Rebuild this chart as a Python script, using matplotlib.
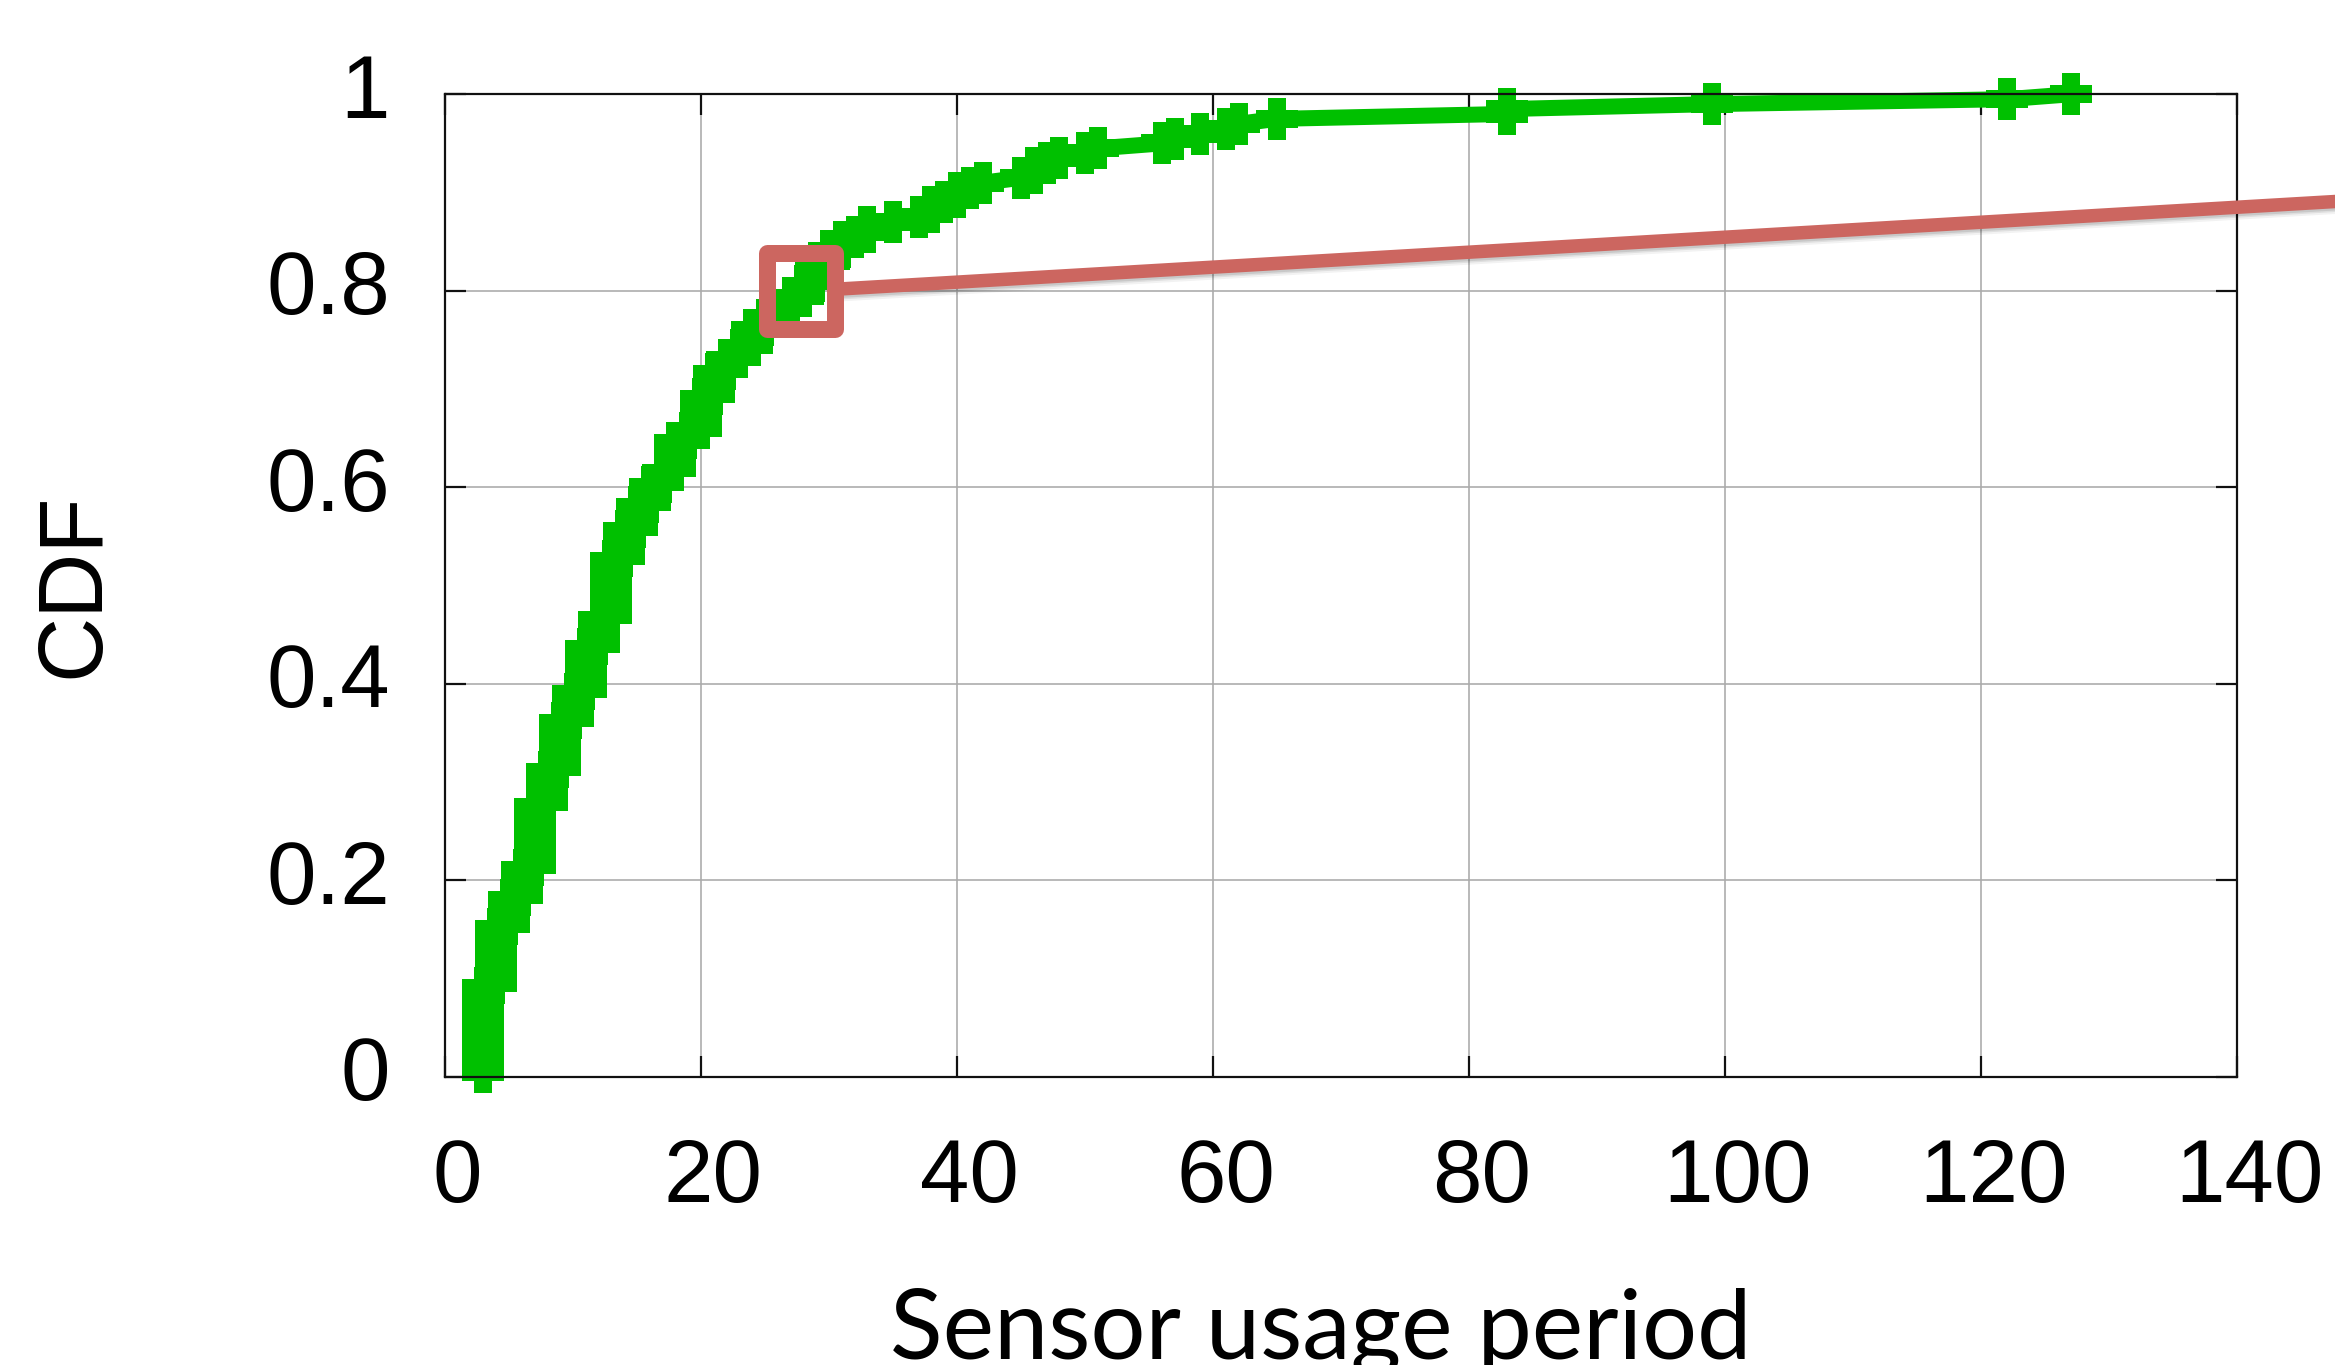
import numpy as np
import matplotlib
matplotlib.use("Agg")
import matplotlib.pyplot as plt
from matplotlib.lines import Line2D
from matplotlib.patches import Rectangle
from matplotlib.transforms import ScaledTranslation, IdentityTransform

# ---------------- data ----------------
# integer usage-period values and how many samples fall on each value
usage_period = [3, 4, 5, 6, 7, 8, 9, 10, 11, 12, 13, 14, 15, 16, 17, 18, 19, 20,
                21, 22, 23, 24, 25, 26, 27, 28, 29, 30, 31, 32, 33, 35, 37, 38,
                39, 40, 41, 42, 45, 46, 47, 48, 50, 51, 56, 57, 59, 61, 62, 65,
                83, 99, 122, 127]
sample_count = [18, 12, 6, 6, 13, 7, 10, 6, 9, 6, 12, 6, 5, 4, 3, 6, 2, 7,
                5, 3, 2, 4, 2, 2, 2, 3, 4, 3, 2, 1, 2, 1, 1, 2,
                1, 2, 1, 1, 1, 2, 1, 1, 1, 1, 1, 1, 1, 1, 1, 1,
                2, 1, 1, 1]

x_ticks = [0, 20, 40, 60, 80, 100, 120, 140]
x_tick_labels = ["0", "20", "40", "60", "80", "100", "120", "140"]
y_ticks = [0, 0.2, 0.4, 0.6, 0.8, 1.0]
y_tick_labels = ["0", "0.2", "0.4", "0.6", "0.8", "1"]
x_label = "Sensor usage period"
y_label = "CDF"
callout_point = (27.8, 0.80)

# ---------------- figure ----------------
W, H = 2335, 1365
DPI = 100
PT = 72.0 / DPI  # points per pixel

fig = plt.figure(figsize=(W / DPI, H / DPI), dpi=DPI)
fig.patch.set_facecolor("white")

ax_left, ax_right, ax_top, ax_bottom = 445, 2237, 94.3, 1076.7
ax = fig.add_axes([ax_left / W, 1 - ax_bottom / H,
                   (ax_right - ax_left) / W, (ax_bottom - ax_top) / H])

periods = np.repeat(usage_period, sample_count)
cdf = np.arange(1, len(periods) + 1) / len(periods)

green = "#00C000"
ax.plot(periods, cdf, color=green, lw=16 * PT, marker="+", ms=42 * PT,
        mew=18 * PT, clip_on=False, solid_joinstyle="miter",
        solid_capstyle="butt", zorder=2)

ax.set_xlim(0, 140)
ax.set_ylim(0, 1)
ax.set_xticks(x_ticks)
ax.set_xticklabels(x_tick_labels)
ax.set_yticks(y_ticks)
ax.set_yticklabels(y_tick_labels)

ax.grid(True, color="#aaaaaa", lw=1.6 * PT, zorder=0)
ax.set_axisbelow(True)

for sp in ax.spines.values():
    sp.set_linewidth(2.2 * PT)
    sp.set_color("#111111")
    sp.set_zorder(3)

tick_font = "Liberation Sans"
ax.tick_params(axis="both", which="major", direction="in", length=21 * PT,
               width=2.2 * PT, color="#111111", top=True, right=True,
               labelsize=64)
ax.tick_params(axis="x", pad=60 * PT)
ax.tick_params(axis="y", pad=55 * PT)
for lab in ax.get_xticklabels():
    lab.set_fontfamily(tick_font)
    lab.set_transform(lab.get_transform() +
                      ScaledTranslation(12.5 / DPI, 0, fig.dpi_scale_trans))
for lab in ax.get_yticklabels():
    lab.set_fontfamily(tick_font)
    lab.set_transform(lab.get_transform() +
                      ScaledTranslation(0, 9 / DPI, fig.dpi_scale_trans))

fig.text(75 / W, 1 - 585 / H, y_label, rotation=90, ha="center", va="center",
         fontsize=65, family=tick_font, color="black")
fig.text(1321 / W, 1 - 1359 / H, x_label, ha="center", va="baseline",
         fontsize=70, family="Lato", color="black")

# ---------------- red callout ----------------
red = "#CC6660"
cx, cy = ax.transData.transform(callout_point)
bw, bh = 68, 75.5
lw_box = 17
x0, y0 = cx - bw / 2, cy - bh / 2
# line from the box toward the right edge of the figure
start = np.array([x0 + bw, cy + 1.5])
slope = 0.0585  # display-coord rise per pixel
end_x = W + 60
end = np.array([end_x, start[1] + slope * (end_x - start[0])])
for off, alpha, w in [(6, 0.05, 13), (4, 0.08, 13), (2.5, 0.10, 13)]:
    fig.add_artist(Line2D([start[0], end[0]], [start[1] - off, end[1] - off],
                          transform=IdentityTransform(), color="black",
                          alpha=alpha, lw=w * PT, solid_capstyle="butt",
                          zorder=9))
fig.add_artist(Line2D([start[0], end[0]], [start[1], end[1]],
                      transform=IdentityTransform(), color=red, lw=13.5 * PT,
                      solid_capstyle="butt", zorder=10))
box = Rectangle((x0, y0), bw, bh, transform=IdentityTransform(),
                fill=False, edgecolor=red, lw=lw_box * PT, joinstyle="round",
                zorder=11)
fig.add_artist(box)

fig.savefig("out.png", dpi=DPI, facecolor="white")
